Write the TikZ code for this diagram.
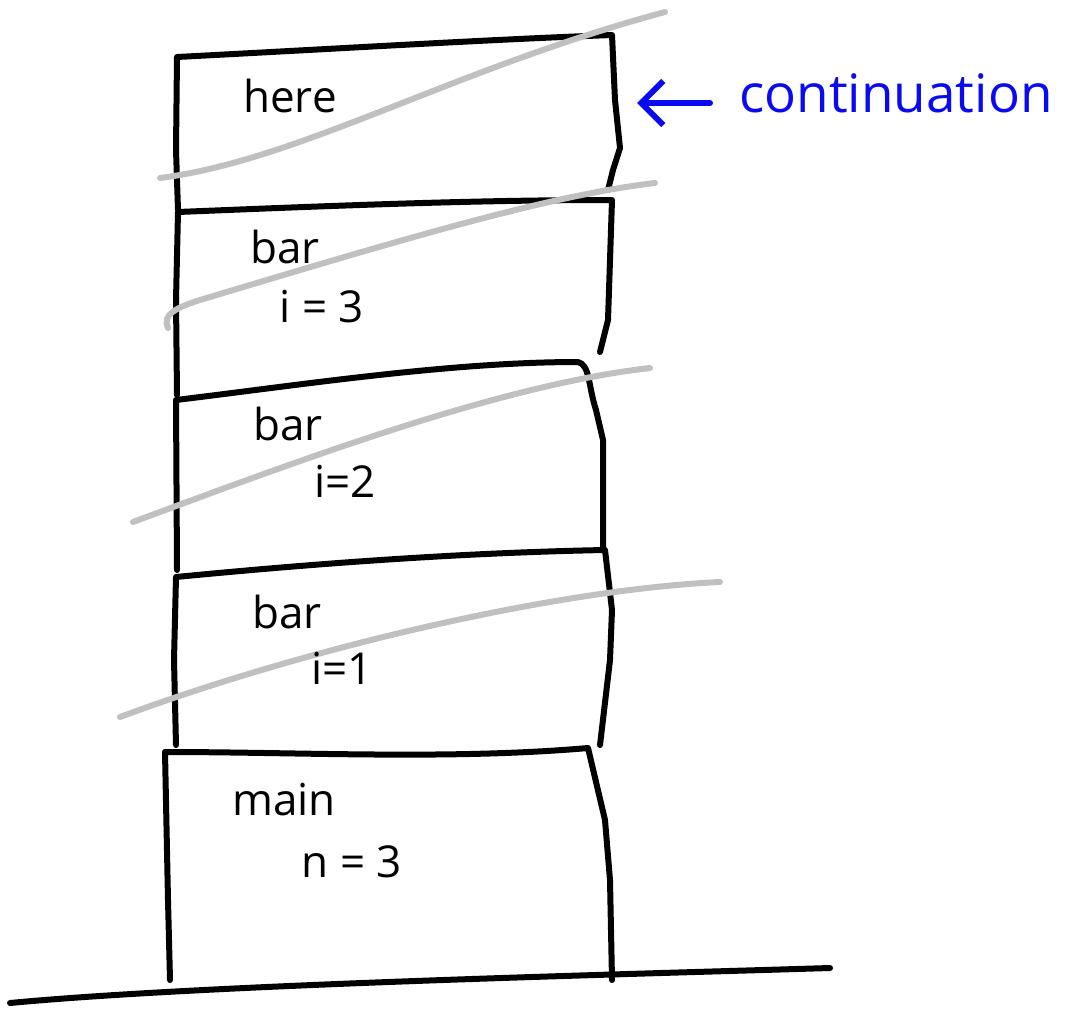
\documentclass[tikz,border=0pt]{standalone}
\usepackage{fontspec}
\setmainfont{Open Sans}
\usetikzlibrary{arrows.meta}
\definecolor{strike}{RGB}{192,192,192}
\definecolor{ink}{RGB}{10,10,240}
\tikzset{
  frameline/.style={line width=6pt, line join=round, line cap=round, black},
  strikeline/.style={line width=6pt, line cap=round, strike},
  label/.style={anchor=base, inner sep=0pt, font=\fontsize{44}{44}\selectfont},
  note/.style={anchor=base, inner sep=0pt, text=ink, font=\fontsize{53}{53}\selectfont},
  pointer/.style={ink, line width=6pt, line cap=round, -{Straight Barb[length=22pt, width=44pt, line width=6pt]}}
}
\begin{document}
\begin{tikzpicture}[x=1pt, y=-1pt]
\useasboundingbox (0,0) rectangle (1068,1017);

% ground line
\draw[frameline] (10,1003) .. controls (200,985) and (600,975) .. (830,968);

% frame "here"
\draw[frameline] (178,210) -- (176,150) -- (177,57) .. controls (350,48) and (480,40) .. (612,35)
  -- (615,100) -- (620,148) -- (613,170) -- (608,190);
% frame bar i=3
\draw[frameline] (177,395) -- (176,300) -- (178,212) .. controls (350,205) and (480,200) .. (612,200)
  -- (610,260) -- (608,320) -- (600,352);
% frame bar i=2
\draw[frameline] (177,570) -- (176,400) .. controls (300,385) and (450,362) .. (578,362)
  .. controls (590,365) and (588,385) .. (596,410) -- (603,440) -- (603,548);
% frame bar i=1
\draw[frameline] (176,745) -- (174,660) -- (176,577) .. controls (300,565) and (450,553) .. (605,550)
  -- (612,610) -- (610,660) -- (600,745);
% frame main
\draw[frameline] (170,980) -- (168,900) -- (165,752) .. controls (300,752) and (450,760) .. (588,748)
  -- (605,820) -- (610,880) -- (612,980);

% crossing-out strokes
\draw[strikeline] (160,178) .. controls (300,160) and (450,70) .. (665,12);
\draw[strikeline] (168,328) .. controls (162,315) and (175,308) .. (200,300)
  .. controls (400,240) and (550,195) .. (655,183);
\draw[strikeline] (133,522) .. controls (300,460) and (500,385) .. (650,368);
\draw[strikeline] (120,717) .. controls (300,650) and (550,590) .. (720,582);

% frame labels
\node[label] (here) at (290,112) {here};
\node[label] (bar3) at (285,263) {bar};
\node[label] (i3) at (322,322) {i = 3};
\node[label] (bar2) at (288,440) {bar};
\node[label] (i2) at (345,497) {i=2};
\node[label] (bar1) at (287,628) {bar};
\node[label] (i1) at (342,684) {i=1};
\node[label] (main) at (284,815) {main};
\node[label] (n3) at (352,877) {n = 3};

% continuation marker
\node[note] (cont) at (896,112) {continuation};
\coordinate (tip) at (637,103);
\draw[pointer] (710,103) -- (tip);
\end{tikzpicture}
\end{document}
